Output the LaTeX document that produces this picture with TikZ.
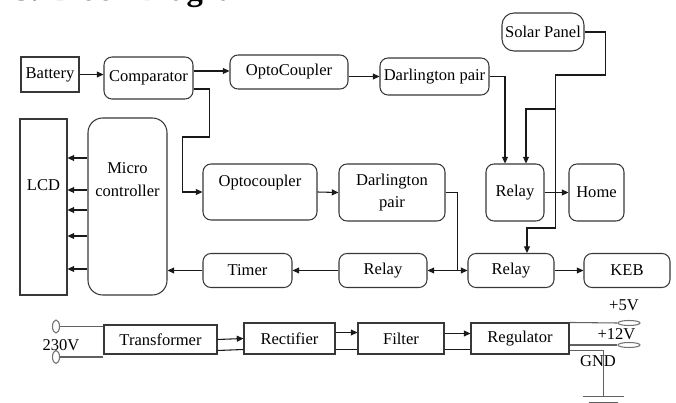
\documentclass[tikz,border=0pt]{standalone}
\usepackage{fontspec}
\setmainfont{Liberation Serif}
\usetikzlibrary{arrows.meta,calc,shapes.geometric}
\begin{document}
\begin{tikzpicture}[x=0.75pt,y=-0.75pt,
  bx/.style 2 args={draw=black!78, line width=0.8pt, minimum width=#1*0.75pt, minimum height=#2*0.75pt, inner sep=1pt, font=\fontsize{12.4}{17}\selectfont, align=center},
  rb/.style={rounded corners=6pt},
  arr/.style={-{Triangle[length=5pt,width=4.5pt]}, line width=0.8pt, draw=black!90},
  ln/.style={line width=0.8pt, draw=black!90},
  pw/.style={draw=black!62, line width=0.8pt},
  termh/.style={draw=black!55, line width=0.8pt, ellipse, minimum width=22*0.75pt, minimum height=5*0.75pt, inner sep=0pt},
  termv/.style={draw=black!55, line width=0.8pt, ellipse, minimum width=7*0.75pt, minimum height=13*0.75pt, inner sep=0pt},
  lbl/.style={inner sep=0pt, font=\fontsize{12.4}{15}\selectfont},
]
\useasboundingbox (0,0) rectangle (676,403);
\node[anchor=base west, inner sep=0pt, font=\bfseries\fontsize{24.5}{28}\selectfont] (title) at (14,0.5) {3. Block Diagram};

\node[bx={58}{35}] (bat) at (50,74.5) {Battery};
\node[bx={89}{42},rb] (comp) at (148.5,78) {Comparator};
\node[bx={118}{34},rb] (opto1) at (289,72) {OptoCoupler};
\node[bx={109}{37},rb] (darl1) at (434.5,76.5) {Darlington pair};
\node[bx={82}{38},rounded corners=9pt] (solar) at (543,32) {Solar Panel};
\node[bx={58}{57},rb] (relay1) at (515,192.5) {Relay};
\node[bx={55}{57},rb] (home) at (596.5,192.5) {Home};
\node[bx={106}{57},rb] (darl2) at (392,192.5) {Darlington\\pair};
\node[bx={114}{56},rb,text depth=17.5pt] (opto2) at (260,192) {Optocoupler};
\node[bx={47}{176},text depth=33pt] (lcd) at (43.5,207) {LCD};
\node[bx={79}{177},rounded corners=11pt,text depth=40pt] (micro) at (127.5,206.5) {Micro\\controller};
\node[bx={89}{34},rb] (timer) at (247.5,270.5) {Timer};
\node[bx={88}{34},rb] (relay2) at (383,270.5) {Relay};
\node[bx={86}{34},rb] (relay3) at (511,270.5) {Relay};
\node[bx={86}{34},rb] (keb) at (627,270.5) {KEB};
\node[bx={113}{29}] (trans) at (160.5,339.5) {Transformer};
\node[bx={91}{31}] (rect) at (289.5,338.5) {Rectifier};
\node[bx={86}{31}] (filter) at (401,338.5) {Filter};
\node[bx={98}{31}] (reg) at (520,338.5) {Regulator};

% top section
\draw[arr] (bat.east) -- (comp.west |- bat.east);
\draw[arr] ($(comp.east)+(0,-7)$) -- (opto1.west |- 0,71);
\draw[arr] ($(comp.east)+(0,11)$) -- ++(16,0) -- ++(0,48) -- ++(-27,0) |- (opto2.west);
\draw[arr] (opto1.east |- darl1.west) -- (darl1.west);
\draw[arr] (darl1.east) -| ($(relay1.north)+(-10,0)$);
\draw[arr] (solar.east) -- ++(21,0) -- ++(0,43) -- ++(-50,0) coordinate (sj) -- ++(0,153) -| ($(relay3.north)+(16,0)$);
\draw[arr] ($(sj)+(0,34)$) -| ($(relay1.north)+(11,0)$);
\draw[arr] (relay1.east) -- (home.west);

% middle section
\draw[arr] (opto2.east) -- (darl2.west);
\draw[arr] (darl2.east) -- ++(12,0) |- (relay3.west);
\draw[arr] (relay3.west) -- (relay2.east);
\draw[arr] (relay2.west) -- (timer.east);
\draw[arr] (timer.west) -- (micro.east |- timer.west);
\draw[arr] (relay3.east) -- (keb.west);
\foreach \yy in {158,190,210,236,269}
  \draw[arr] (micro.west |- 0,\yy) -- (lcd.east |- 0,\yy);

% power supply
\node[termv] (ta) at (56,326.5) {};
\node[termv] (tb) at (56,357) {};
\draw[pw] (ta.east) -- (trans.west |- ta.east);
\draw[pw] (tb.east) -- (trans.west |- tb.east);
\node[lbl] (v230) at (61,345) {230V};

\draw[arr] (trans.east) -- (rect.west);
\draw[ln] ($(trans.east)+(0,11)$) -- ($(rect.west)+(0,11)$);
\draw[arr] ($(rect.east)+(0,-6)$) -- ($(filter.west)+(0,-6)$);
\draw[ln] ($(rect.east)+(0,11)$) -- ($(filter.west)+(0,11)$);
\draw[arr] ($(filter.east)+(0,-5)$) -- ($(reg.west)+(0,-5)$);
\draw[ln] ($(filter.east)+(0,11)$) -- ($(reg.west)+(0,11)$);

\node[termh] (t5) at (629,323) {};
\node[termh] (t12) at (629,345) {};
\draw[pw] (reg.north east) -- (t5.west);
\draw[pw] (reg.east |- t12.west) -- (t12.west);
\draw[pw] ($(reg.east)+(0,12)$) -- ++(34,0) -- ++(0,46) coordinate (gnd);
\draw[pw] ($(gnd)+(-21,0)$) -- ($(gnd)+(20,0)$);
\draw[pw] ($(gnd)+(-15,6)$) -- ($(gnd)+(14,6)$);
\node[lbl] (v5) at (624,305) {+5V};
\node[lbl] (v12) at (616.5,334) {+12V};
\node[lbl] (gndl) at (598,361) {GND};
\end{tikzpicture}
\end{document}
